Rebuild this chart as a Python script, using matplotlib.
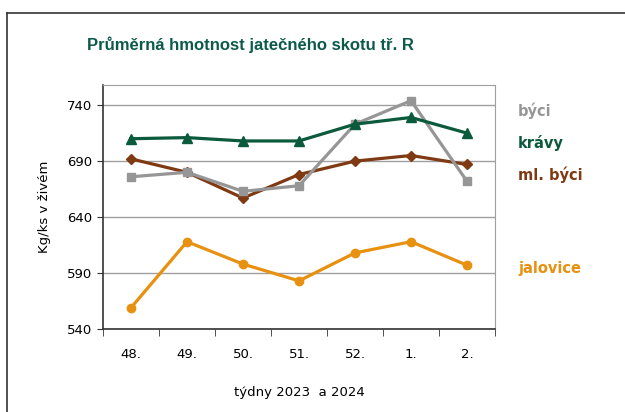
import matplotlib.pyplot as plt
from matplotlib.lines import Line2D

tydny = ["48.", "49.", "50.", "51.", "52.", "1.", "2."]
byci = [676, 680, 663, 668, 723, 744, 672]
kravy = [710, 711, 708, 708, 723, 729, 715]
ml_byci = [692, 680, 657, 678, 690, 695, 687]
jalovice = [559, 618, 598, 583, 608, 618, 597]

c_byci = "#969696"
c_kravy = "#0b5a3c"
c_ml = "#7f3a14"
c_jal = "#e8900f"

plt.rcParams['font.family'] = ['DejaVu Sans']

fig = plt.figure(figsize=(6.25, 4.12), dpi=100)
ax = fig.add_axes([103 / 625, 1 - 329 / 412, (495 - 103) / 625, (329 - 85) / 412])

x = list(range(len(tydny)))
ax.plot(x, ml_byci, color=c_ml, lw=2.3, marker="D", ms=5.5, zorder=3)
ax.plot(x, byci, color=c_byci, lw=2.3, marker="s", ms=6, zorder=4)
ax.plot(x, kravy, color=c_kravy, lw=2.3, marker="^", ms=7, zorder=5)
ax.plot(x, jalovice, color=c_jal, lw=2.3, marker="o", ms=6, zorder=3)

ax.set_xlim(-0.5, 6.5)
ax.set_ylim(540, 758)
ax.set_yticks([540, 590, 640, 690, 740])
ax.set_xticks(x)
ax.set_xticklabels(tydny)
ax.set_xticks([i - 0.5 for i in range(8)], minor=True)
ax.tick_params(axis="x", which="major", length=0, pad=14, labelsize=9.5)
ax.tick_params(axis="x", which="minor", length=5, direction="out", color="#333333")
ax.tick_params(axis="y", length=4, direction="out", labelsize=9.5, color="#333333")
ax.grid(axis="y", color="#a0a0a0", lw=1)
ax.set_axisbelow(True)
for s in ["top", "right"]:
    ax.spines[s].set_color("#a0a0a0")
for s in ["left", "bottom"]:
    ax.spines[s].set_color("#333333")
    ax.spines[s].set_linewidth(1.2)

ax.set_ylabel("Kg/ks v živém", fontsize=9.5, labelpad=12)
ax.set_xlabel("týdny 2023  a 2024", fontsize=9.5, labelpad=18)

fig.text(250 / 625, 1 - 45 / 412, "Průměrná hmotnost jatečného skotu tř. R",
         ha="center", va="center", fontsize=12, fontweight="bold", color="#0b5a4a",
         family="Liberation Sans")

labels = [("býci", 111, c_byci), ("krávy", 143, c_kravy),
          ("ml. býci", 175, c_ml), ("jalovice", 268, c_jal)]
for t, yy, c in labels:
    fig.text(518 / 625, 1 - yy / 412, t, ha="left", va="center",
             fontsize=10.5, fontweight="bold", color=c)

fig.add_artist(Line2D([7 / 625, 7 / 625], [0, 1 - 13 / 412], color="#333333", lw=1.2))
fig.add_artist(Line2D([7 / 625, 1], [1 - 13 / 412, 1 - 13 / 412], color="#333333", lw=1.2))

fig.savefig("out.png", dpi=100)
